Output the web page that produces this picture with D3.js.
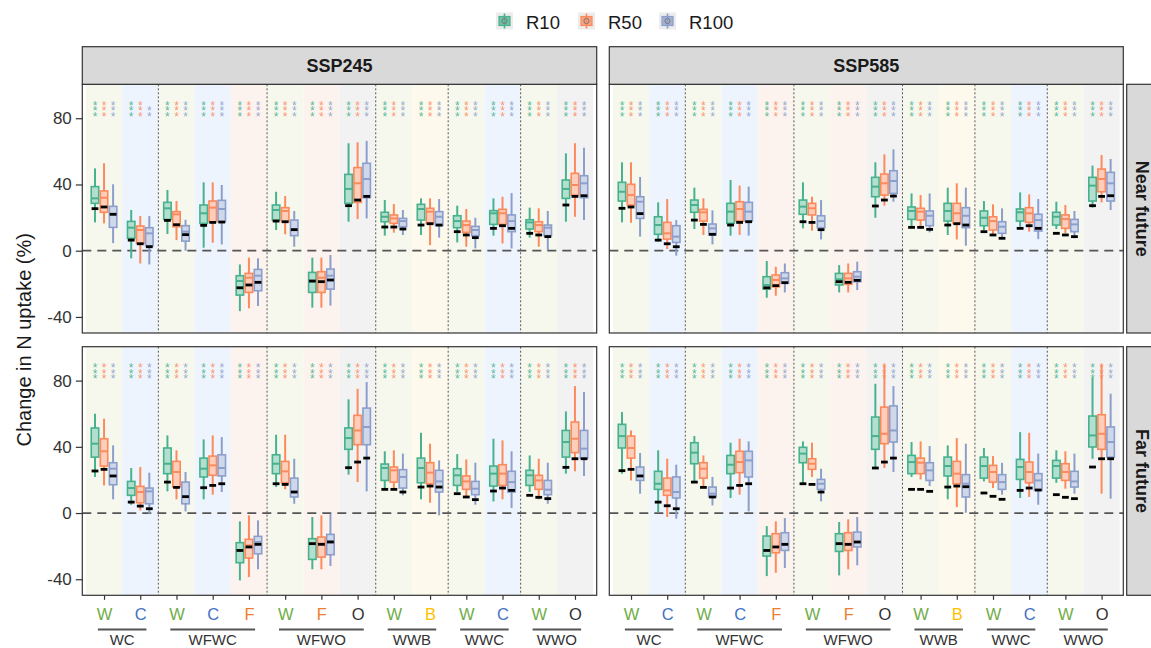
<!DOCTYPE html>
<html lang="en">
<head>
<meta charset="utf-8">
<script src="https://d3js.org/d3.v7.min.js"></script>
<style>
  body { margin: 0; background: #fff; }
  text { font-family: "Liberation Sans", Arial, sans-serif; }
</style>
</head>
<body>
<div id="my_dataviz"></div>
<script>
// x categories (same in every panel) and the rotation each one belongs to
var cropLabels = ["W","C","W","C","F","W","F","O","W","B","W","C","W","O"];
var cropGroups = ["WC","WC","WFWC","WFWC","WFWC","WFWO","WFWO","WFWO","WWB","WWB","WWC","WWC","WWO","WWO"];
var scenarios = ["SSP245","SSP585"];
var periods = ["Near future","Far future"];
var series = ["R10","R50","R100"];
var yTicks = [-40, 0, 40, 80];
var starLevels = [82.5, 86, 89.4];   // y value of 1st, 2nd, 3rd star

// per category, per series: [lower whisker, q1, median, q3, upper whisker, reference]
var ssp245Near = [
  [[17.1,28.6,31.6,38.7,49.7,25.4],[16.5,23.2,32.0,36.1,52.8,26.4],[4.6,14.1,22.0,26.8,40.1,22.0]],
  [[-4.6,7.5,13.9,17.7,24.6,6.4],[-7.7,4.4,12.5,14.9,20.9,4.2],[-8.3,3.0,10.5,13.9,20.9,2.4]],
  [[10.1,18.9,25.6,29.2,36.7,18.3],[6.4,14.5,22.0,23.6,30.0,15.7],[0.0,5.8,11.5,15.1,18.7,9.7]],
  [[1.8,16.5,22.6,27.6,41.3,15.3],[4.8,17.5,26.0,30.0,41.3,17.1],[3.8,17.5,25.2,30.4,39.7,17.3]],
  [[-36.5,-26.8,-18.3,-15.1,-8.3,-22.4],[-34.8,-25.2,-16.3,-13.7,-4.2,-20.7],[-33.4,-24.2,-15.1,-11.3,-4.6,-19.1]],
  [[12.5,18.5,24.6,27.6,35.6,17.9],[9.9,17.5,24.0,26.0,33.0,17.5],[2.4,9.1,13.1,18.5,24.0,12.7]],
  [[-34.4,-25.2,-18.7,-13.1,-4.2,-18.3],[-34.4,-25.2,-16.3,-12.7,-4.2,-18.7],[-33.2,-23.2,-15.1,-11.1,-2.6,-17.7]],
  [[17.5,28.6,37.3,46.1,64.9,27.2],[19.1,29.2,40.7,50.2,65.5,30.6],[19.5,32.0,43.3,52.8,66.3,32.8]],
  [[9.1,17.5,20.5,23.2,30.6,14.3],[10.9,16.5,19.5,21.6,28.2,14.3],[9.5,14.5,17.9,19.5,24.6,13.1]],
  [[9.5,18.5,25.2,28.0,31.6,15.5],[3.4,16.5,23.6,25.6,31.6,16.3],[7.9,15.1,20.5,23.6,31.2,15.5]],
  [[5.0,13.9,17.9,21.1,27.2,11.5],[2.4,11.1,15.5,17.9,25.2,9.5],[1.4,9.1,12.5,14.7,19.9,7.9]],
  [[9.1,15.9,22.6,24.2,31.6,13.5],[4.4,15.9,22.6,25.0,32.6,15.1],[1.4,11.5,17.9,21.6,34.8,13.5]],
  [[7.9,13.1,17.1,18.7,26.0,10.5],[2.4,11.5,15.5,17.5,25.6,9.5],[0.4,9.1,13.9,15.5,24.0,8.5]],
  [[17.5,31.6,37.3,42.7,58.8,27.6],[20.5,33.6,39.7,46.7,64.9,32.8],[18.5,32.0,40.7,45.3,62.2,33.2]]
];
var ssp585Near = [
  [[17.1,30.0,35.6,41.3,53.4,25.6],[16.9,27.6,33.6,40.1,53.4,26.4],[8.5,19.5,29.6,32.6,44.5,22.4]],
  [[5.4,9.9,15.5,20.5,29.2,6.4],[1.0,7.0,10.5,17.1,31.2,4.2],[-3.0,5.0,8.5,15.1,18.5,2.4]],
  [[13.1,23.2,27.6,30.6,38.1,18.5],[9.5,17.9,23.2,25.0,31.6,15.9],[3.8,9.5,13.5,16.1,24.4,9.9]],
  [[9.1,16.5,23.6,28.6,42.7,15.5],[9.5,17.9,25.2,29.6,39.3,17.1],[9.1,17.9,23.6,29.2,38.7,17.5]],
  [[-28.4,-23.2,-20.7,-15.7,-6.2,-22.4],[-27.2,-21.8,-17.7,-14.7,-9.7,-21.1],[-25.2,-19.7,-16.7,-13.3,-7.7,-19.3]],
  [[13.5,22.0,26.6,30.6,41.3,17.5],[12.1,21.6,25.6,28.6,32.6,17.1],[6.8,13.9,17.9,21.1,30.6,12.7]],
  [[-25.2,-20.7,-17.3,-13.7,-8.7,-18.7],[-25.2,-20.3,-16.7,-13.7,-7.7,-19.1],[-23.8,-18.7,-15.7,-12.7,-6.6,-17.9]],
  [[19.9,32.6,38.7,44.3,53.4,27.0],[27.2,33.6,40.7,46.3,58.2,30.6],[29.6,34.6,42.1,48.3,61.2,33.0]],
  [[14.5,18.9,24.0,26.4,34.6,14.1],[13.1,18.5,23.6,25.6,33.6,14.1],[11.1,15.1,21.1,24.0,34.6,12.9]],
  [[9.5,17.9,24.0,28.6,38.1,15.5],[6.8,16.5,22.6,28.6,40.7,16.3],[3.0,13.9,21.1,26.0,38.1,15.5]],
  [[12.5,15.1,19.9,24.0,30.0,11.5],[9.5,12.5,17.9,20.5,28.0,9.5],[7.0,10.5,14.5,17.5,25.6,7.5]],
  [[14.5,17.9,23.2,25.2,35.2,13.5],[11.5,17.1,22.6,26.0,34.0,15.1],[7.0,11.9,18.5,22.0,31.2,13.5]],
  [[13.1,15.5,20.5,23.2,29.6,10.5],[10.5,13.5,19.1,21.6,27.6,9.5],[7.5,11.5,15.9,18.9,24.0,8.5]],
  [[26.0,30.0,39.3,44.3,51.4,27.2],[29.2,35.6,43.3,49.3,57.8,32.8],[24.6,30.0,40.7,47.3,55.4,33.2]]
];
var ssp245Far = [
  [[21.8,33.8,41.9,51.4,60.0,25.4],[16.7,28.4,37.3,44.9,57.0,26.4],[8.3,17.1,26.8,30.4,40.9,22.4]],
  [[5.0,10.7,15.1,19.1,27.2,6.6],[1.6,6.2,12.7,16.1,27.8,4.2],[-0.4,5.6,13.1,15.1,24.4,2.6]],
  [[13.1,23.8,29.8,39.3,46.9,18.7],[8.3,15.7,24.8,31.2,37.9,15.5],[1.0,5.6,9.7,18.7,24.8,9.9]],
  [[8.3,21.8,26.8,33.2,44.5,15.3],[11.1,22.8,28.8,34.4,46.9,16.7],[12.7,22.4,27.2,35.2,45.9,17.7]],
  [[-40.7,-30.0,-22.6,-17.9,-5.0,-22.6],[-38.7,-27.2,-19.5,-15.9,-1.4,-20.5],[-34.0,-24.6,-17.5,-14.1,-4.4,-18.9]],
  [[15.7,23.8,29.8,35.2,47.3,17.7],[14.3,18.3,25.2,31.2,47.3,17.3],[5.6,9.7,12.7,21.1,32.8,12.7]],
  [[-34.0,-28.0,-18.5,-15.5,-2.4,-18.5],[-34.0,-26.6,-18.5,-14.5,-1.4,-18.9],[-32.0,-25.2,-17.1,-12.9,-0.4,-17.5]],
  [[23.2,38.5,45.3,51.4,68.7,27.4],[18.7,41.3,49.9,59.0,75.1,30.8],[13.1,41.3,52.0,63.4,79.2,33.2]],
  [[15.1,19.7,27.2,29.6,37.3,14.3],[15.1,18.7,25.8,27.8,37.9,14.3],[10.7,15.1,21.8,26.2,35.9,12.7]],
  [[8.3,18.3,27.2,33.2,48.5,15.7],[6.2,17.7,24.4,30.4,41.9,16.3],[-1.4,12.7,19.1,25.8,31.8,15.7]],
  [[12.7,16.7,22.8,26.8,35.6,11.7],[9.1,14.3,19.1,22.4,32.4,9.7],[5.0,11.1,14.7,19.1,30.4,8.1]],
  [[7.0,16.3,23.8,28.4,44.9,13.3],[8.3,16.7,23.8,29.2,43.9,15.1],[3.0,12.7,18.7,25.2,37.3,13.7]],
  [[12.7,16.7,22.8,25.8,34.8,10.7],[8.3,14.3,19.7,22.8,32.8,9.5],[5.6,11.1,14.1,19.7,30.4,8.7]],
  [[23.8,33.8,42.9,49.9,61.4,27.6],[25.2,36.5,44.9,55.0,76.7,32.8],[22.4,33.2,38.9,49.9,73.1,32.8]]
];
var ssp585Far = [
  [[23.8,39.3,46.5,53.6,61.0,25.6],[19.7,33.2,39.3,46.5,49.9,26.4],[11.7,19.7,22.4,27.8,36.3,22.4]],
  [[0.6,14.3,17.7,25.2,37.9,6.6],[-2.4,10.7,13.7,21.1,32.8,4.4],[-3.4,9.1,12.7,21.8,29.2,2.6]],
  [[18.3,29.8,36.5,42.5,46.5,18.7],[15.7,21.1,26.8,30.4,34.8,15.5],[4.6,9.7,11.7,15.7,21.8,9.7]],
  [[9.1,23.8,29.2,34.8,42.5,15.1],[11.1,24.4,30.8,37.3,44.9,16.7],[1.0,21.8,31.8,37.3,43.3,17.7]],
  [[-38.1,-26.0,-22.6,-13.9,-7.9,-22.6],[-36.1,-24.0,-20.5,-12.5,-5.0,-20.5],[-33.2,-22.6,-19.1,-11.9,-3.0,-18.9]],
  [[17.7,30.4,35.9,39.7,43.3,17.7],[21.8,26.4,29.8,32.8,42.5,17.3],[7.0,14.3,17.7,20.3,26.8,12.7]],
  [[-37.7,-23.2,-18.5,-12.5,-5.4,-18.5],[-34.0,-22.6,-19.1,-11.9,-3.8,-18.9],[-31.6,-20.5,-17.5,-11.5,-2.4,-17.5]],
  [[27.2,38.5,46.5,58.0,78.1,27.2],[27.2,41.9,47.9,64.0,89.6,30.8],[24.8,42.9,49.9,64.7,76.7,33.2]],
  [[21.8,23.8,30.8,34.8,42.9,14.3],[20.3,23.8,30.4,33.2,43.3,14.3],[16.3,19.7,25.8,30.4,40.5,13.1]],
  [[8.3,22.4,28.4,33.8,40.9,15.7],[3.6,17.7,23.8,31.2,45.3,16.3],[0.2,9.7,17.7,23.2,41.9,15.9]],
  [[19.1,21.1,28.4,33.8,39.3,12.1],[15.1,18.7,24.8,28.8,34.4,10.1],[11.1,14.3,18.7,23.2,30.4,8.3]],
  [[9.1,20.3,27.8,32.4,48.9,13.7],[9.7,18.3,24.8,30.8,48.5,15.1],[5.0,13.7,19.7,23.8,35.9,13.9]],
  [[18.3,21.1,28.4,31.8,37.9,11.1],[14.7,19.7,24.8,29.8,37.3,9.5],[11.7,15.7,19.1,25.2,35.9,8.7]],
  [[32.8,39.9,46.9,58.6,81.6,27.8],[11.7,38.5,47.9,59.4,89.6,32.8],[8.7,33.8,42.9,52.0,72.1,32.8]]
];

// number of significance stars per category and series
var stars245Near = [[3,3,3],[3,3,2],[3,3,3],[3,3,3],[3,3,3],[3,3,3],[3,3,3],[3,3,3],[3,3,3],[3,3,3],[3,3,3],[3,3,3],[3,3,3],[3,3,3]];
var stars585Near = [[3,3,3],[3,3,3],[3,3,3],[3,3,3],[3,3,3],[3,3,3],[3,3,3],[3,3,3],[3,3,3],[3,3,3],[3,3,3],[3,3,3],[3,3,3],[3,3,3]];
var stars245Far  = [[3,3,3],[3,3,3],[3,3,3],[3,3,3],[3,3,3],[3,3,3],[3,3,3],[3,3,3],[3,3,3],[3,3,3],[3,3,3],[3,3,3],[3,3,3],[3,3,3]];
var stars585Far  = [[3,3,3],[3,3,3],[3,3,3],[3,3,3],[3,3,3],[3,3,3],[3,3,3],[3,3,3],[3,3,3],[3,3,3],[3,3,3],[3,3,3],[3,3,3],[3,3,3]];

var width = 1151, height = 648;
var svg = d3.select("#my_dataviz").append("svg")
  .attr("width", width).attr("height", height);
svg.append("rect").attr("width", width).attr("height", height).attr("fill", "white");

var color = d3.scaleOrdinal().domain(series).range(["#47b28d", "#fc8a5c", "#8c9fcc"]);
var bgColor = {W: "#f6f8ee", C: "#eef4fd", F: "#fdf3ee", O: "#f2f2f2", B: "#fdf9ec"};
var labColor = {W: "#70ad47", C: "#4472c4", F: "#ed7d31", B: "#ffc000", O: "#333333"};

// panel layout
var colX = [[82.3, 596.7], [609.3, 1123.3]];
var rowY = [[84.3, 333], [346.7, 595.3]];

var panels = [
  {col: 0, row: 0, data: ssp245Near, stars: stars245Near},
  {col: 1, row: 0, data: ssp585Near, stars: stars585Near},
  {col: 0, row: 1, data: ssp245Far, stars: stars245Far},
  {col: 1, row: 1, data: ssp585Far, stars: stars585Far}
];

panels.forEach(function(p) {
  var x0 = colX[p.col][0], x1 = colX[p.col][1];
  var yTop = rowY[p.row][0], yBot = rowY[p.row][1];
  var x = d3.scalePoint().domain(d3.range(cropLabels.length)).range([x0, x1]).padding(0.6);
  var step = x.step();
  var dodge = d3.scaleBand().domain(series).range([-0.375 * step, 0.375 * step]);
  var y = d3.scaleLinear().domain([-49.7, 100.5]).range([yBot, yTop]);
  var g = svg.append("g");

  // crop background stripes
  g.selectAll(".bg").data(cropLabels).enter().append("rect")
    .attr("x", function(d, i) { return Math.max(x0, x(i) - step / 2); })
    .attr("width", function(d, i) { return Math.min(x1, x(i) + step / 2) - Math.max(x0, x(i) - step / 2); })
    .attr("y", yTop).attr("height", yBot - yTop)
    .attr("fill", function(d) { return bgColor[d]; });

  // dotted separators between rotations
  var seps = d3.range(cropLabels.length - 1).filter(function(i) { return cropGroups[i] !== cropGroups[i + 1]; });
  g.selectAll(".sep").data(seps).enter().append("line")
    .attr("x1", function(i) { return x(i) + step / 2; })
    .attr("x2", function(i) { return x(i) + step / 2; })
    .attr("y1", yTop).attr("y2", yBot)
    .attr("stroke", "#555").attr("stroke-width", 1).attr("stroke-dasharray", "2,2");

  // zero line
  g.append("line")
    .attr("x1", x0).attr("x2", x1).attr("y1", y(0)).attr("y2", y(0))
    .attr("stroke", "#555").attr("stroke-width", 1.7).attr("stroke-dasharray", "9,6");

  var boxes = [];
  p.data.forEach(function(cat, i) {
    cat.forEach(function(v, s) {
      boxes.push({i: i, s: series[s], lo: v[0], q1: v[1], med: v[2], q3: v[3], hi: v[4], ref: v[5], n: p.stars[i][s]});
    });
  });
  var cx = function(d) { return x(d.i) + dodge(d.s) + dodge.bandwidth() / 2; };
  var bw = dodge.bandwidth() - 1.6;

  // whiskers
  g.selectAll(".wh").data(boxes).enter().append("line")
    .attr("x1", cx).attr("x2", cx)
    .attr("y1", function(d) { return y(d.lo); })
    .attr("y2", function(d) { return y(d.hi); })
    .attr("stroke", function(d) { return color(d.s); })
    .attr("stroke-width", 2);

  // boxes
  g.selectAll(".box").data(boxes).enter().append("rect")
    .attr("x", function(d) { return cx(d) - bw / 2; })
    .attr("width", bw)
    .attr("y", function(d) { return y(d.q3); })
    .attr("height", function(d) { return y(d.q1) - y(d.q3); })
    .attr("fill", "white")
    .attr("stroke", function(d) { return color(d.s); })
    .attr("stroke-width", 1.6);
  g.selectAll(".boxfill").data(boxes).enter().append("rect")
    .attr("x", function(d) { return cx(d) - bw / 2; })
    .attr("width", bw)
    .attr("y", function(d) { return y(d.q3); })
    .attr("height", function(d) { return y(d.q1) - y(d.q3); })
    .attr("fill", function(d) { return color(d.s); })
    .attr("fill-opacity", 0.42);

  // medians
  g.selectAll(".med").data(boxes).enter().append("line")
    .attr("x1", function(d) { return cx(d) - bw / 2; })
    .attr("x2", function(d) { return cx(d) + bw / 2; })
    .attr("y1", function(d) { return y(d.med); })
    .attr("y2", function(d) { return y(d.med); })
    .attr("stroke", function(d) { return color(d.s); })
    .attr("stroke-width", 2);

  // reference dashes
  g.selectAll(".ref").data(boxes).enter().append("rect")
    .attr("x", function(d) { return cx(d) - 3.4; })
    .attr("width", 6.8)
    .attr("y", function(d) { return y(d.ref) - 1.4; })
    .attr("height", 2.8)
    .attr("fill", "black");

  // significance stars, one text per star, stacked from the bottom
  var starPts = [];
  boxes.forEach(function(d) {
    for (var k = 0; k < d.n; k++) starPts.push({d: d, lev: starLevels[k]});
  });
  g.selectAll(".star").data(starPts).enter().append("text")
    .attr("x", function(s) { return cx(s.d); })
    .attr("y", function(s) { return y(s.lev) + 7; })
    .attr("text-anchor", "middle")
    .attr("font-size", "12px")
    .attr("fill", function(s) { return color(s.d.s); })
    .attr("fill-opacity", 0.9)
    .text("*");

  // panel border
  g.append("rect")
    .attr("x", x0).attr("y", yTop).attr("width", x1 - x0).attr("height", yBot - yTop)
    .attr("fill", "none").attr("stroke", "#333").attr("stroke-width", 1.2);

  // y axis on left column
  if (p.col === 0) {
    var ya = g.append("g")
      .attr("transform", "translate(" + x0 + ",0)")
      .call(d3.axisLeft(y).tickValues(yTicks).tickSize(6.5).tickPadding(4)
        .tickFormat(function(d) { return String(d); }));
    ya.select(".domain").remove();
    ya.selectAll(".tick line").attr("stroke", "#333").attr("stroke-width", 1.2);
    ya.selectAll(".tick text").attr("font-size", "17px").attr("fill", "#333")
      .style("font-family", "'Liberation Sans', Arial, sans-serif");
  }

  // x axis + rotation labels on bottom row
  if (p.row === 1) {
    var xa = g.append("g")
      .attr("transform", "translate(0," + yBot + ")")
      .call(d3.axisBottom(x).tickSize(4.5).tickPadding(8)
        .tickFormat(function(i) { return cropLabels[i]; }));
    xa.select(".domain").remove();
    xa.selectAll(".tick line").attr("stroke", "#333").attr("stroke-width", 1.2);
    xa.selectAll(".tick text").attr("font-size", "16.5px")
      .style("font-family", "'Liberation Sans', Arial, sans-serif")
      .attr("fill", function(i) { return labColor[cropLabels[i]]; });

    var groupNames = cropGroups.filter(function(d, i) { return i === 0 || d !== cropGroups[i - 1]; });
    groupNames.forEach(function(gn) {
      var idx = d3.range(cropGroups.length).filter(function(i) { return cropGroups[i] === gn; });
      var a = x(idx[0]) - 0.17 * step, b = x(idx[idx.length - 1]) + 0.17 * step;
      g.append("line").attr("x1", a).attr("x2", b).attr("y1", 629.5).attr("y2", 629.5)
        .attr("stroke", "#555").attr("stroke-width", 1.8);
      g.append("text").attr("x", (a + b) / 2).attr("y", 644.5)
        .attr("text-anchor", "middle").attr("font-size", "15px").attr("fill", "#333")
        .text(gn);
    });
  }
});

// top strips
scenarios.forEach(function(s, c) {
  svg.append("rect")
    .attr("x", colX[c][0]).attr("y", 46.7).attr("width", colX[c][1] - colX[c][0]).attr("height", 84.3 - 46.7)
    .attr("fill", "#d9d9d9").attr("stroke", "#333").attr("stroke-width", 1.2);
  svg.append("text")
    .attr("x", (colX[c][0] + colX[c][1]) / 2).attr("y", 71.5)
    .attr("text-anchor", "middle").attr("font-size", "18px").attr("font-weight", "bold").attr("fill", "#1a1a1a")
    .text(s);
});

// right strips
periods.forEach(function(pname, r) {
  svg.append("rect")
    .attr("x", 1126.7).attr("y", rowY[r][0]).attr("width", 40).attr("height", rowY[r][1] - rowY[r][0])
    .attr("fill", "#d9d9d9").attr("stroke", "#333").attr("stroke-width", 1.2);
  var cy = (rowY[r][0] + rowY[r][1]) / 2;
  svg.append("text")
    .attr("transform", "translate(1135.5," + cy + ") rotate(90)")
    .attr("text-anchor", "middle").attr("font-size", "18px").attr("font-weight", "bold").attr("fill", "#1a1a1a")
    .text(pname);
});

// y axis title
svg.append("text")
  .attr("transform", "translate(31," + ((rowY[0][0] + rowY[1][1]) / 2) + ") rotate(-90)")
  .attr("text-anchor", "middle").attr("font-size", "20px").attr("fill", "#1a1a1a")
  .text("Change in N uptake (%)");

// legend
var legX = [496, 578, 659];
series.forEach(function(s, k) {
  var lg = svg.append("g").attr("transform", "translate(" + legX[k] + ",12.5)");
  lg.append("rect").attr("width", 17).attr("height", 17).attr("fill", "#ececec");
  lg.append("line").attr("x1", 8.5).attr("x2", 8.5).attr("y1", 1).attr("y2", 16)
    .attr("stroke", color(s)).attr("stroke-width", 1.6);
  lg.append("rect").attr("x", 3).attr("y", 4).attr("width", 11).attr("height", 9)
    .attr("fill", color(s)).attr("fill-opacity", 0.75)
    .attr("stroke", color(s)).attr("stroke-width", 1.2);
  lg.append("circle").attr("cx", 8.5).attr("cy", 8.5).attr("r", 2.6)
    .attr("fill", "none").attr("stroke", "#777").attr("stroke-width", 1);
  svg.append("text").attr("x", legX[k] + 30).attr("y", 28.5)
    .attr("font-size", "18.5px").attr("fill", "#1a1a1a").text(s);
});
</script>
</body>
</html>
